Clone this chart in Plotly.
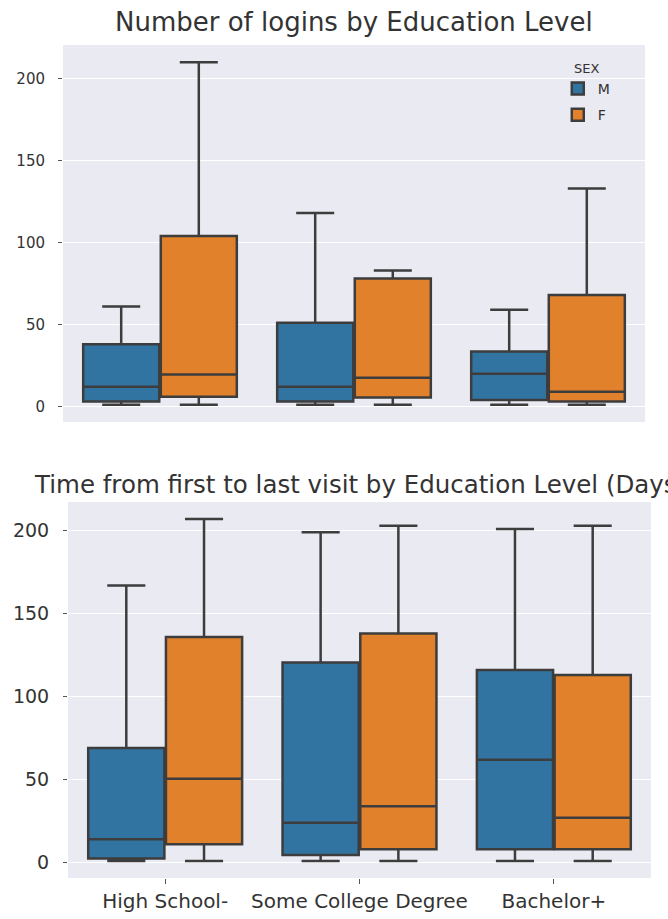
import plotly.graph_objects as go

# Education levels on the shared category axis
categories = ["High School-", "Some College Degree", "Bachelor+"]
sexes = ["M", "F"]

# Number of logins: box statistics per education level
logins_m_low = [1, 1, 1]
logins_m_q1 = [3, 3, 4]
logins_m_med = [12, 12, 20]
logins_m_q3 = [38, 51, 33.5]
logins_m_high = [61, 118, 59]

logins_f_low = [1, 1, 1]
logins_f_q1 = [6, 5.5, 3]
logins_f_med = [19.5, 17.5, 9]
logins_f_q3 = [104, 78, 68]
logins_f_high = [210, 83, 133]

# Days between first and last visit: box statistics per education level
days_m_low = [1, 1, 1]
days_m_q1 = [2.5, 4.5, 8]
days_m_med = [14, 24, 62]
days_m_q3 = [69, 120.5, 116]
days_m_high = [167, 199, 201]

days_f_low = [1, 1, 1]
days_f_q1 = [11, 8, 8]
days_f_med = [50.5, 34, 27]
days_f_q3 = [136, 138, 113]
days_f_high = [207, 203, 203]

W, H = 668, 919
BLUE = "#3274a1"
ORANGE = "#e1812c"
EDGE = "#3d3d3d"
BG = "#eaeaf2"
TEXT = "#333333"
FONT = "DejaVu Sans"


def px_x(a, b):
    return [a / W, b / W]


def px_y(top, bottom):
    return [1 - bottom / H, 1 - top / H]


def padded_range(lows, highs):
    lo, hi = min(lows), max(highs)
    pad = 0.05 * (hi - lo)
    return [lo - pad, hi + pad]


fig = go.Figure()

panels = [
    ("x", "y", True,
     (logins_m_low, logins_m_q1, logins_m_med, logins_m_q3, logins_m_high),
     (logins_f_low, logins_f_q1, logins_f_med, logins_f_q3, logins_f_high)),
    ("x2", "y2", False,
     (days_m_low, days_m_q1, days_m_med, days_m_q3, days_m_high),
     (days_f_low, days_f_q1, days_f_med, days_f_q3, days_f_high)),
]

for xa, ya, show, m_stats, f_stats in panels:
    for sex, color, stats in zip(sexes, (BLUE, ORANGE), (m_stats, f_stats)):
        low, q1, med, q3, high = stats
        fig.add_trace(go.Box(
            x=categories, lowerfence=low, q1=q1, median=med, q3=q3, upperfence=high,
            name=sex, legendgroup=sex, showlegend=show,
            fillcolor=color, line=dict(color=EDGE, width=2.5),
            whiskerwidth=0.5, boxpoints=False,
            xaxis=xa, yaxis=ya, offsetgroup=sex,
        ))

ytop_range = padded_range(logins_m_low + logins_f_low, logins_m_high + logins_f_high)
ybot_range = padded_range(days_m_low + days_f_low, days_m_high + days_f_high)

common_y = dict(
    showgrid=True, gridcolor="white", gridwidth=1.3, zeroline=False,
    showline=False, ticks="outside", ticklen=4, tickcolor="#555555",
    tickvals=[0, 50, 100, 150, 200], ticklabelstandoff=10,
)

fig.update_layout(
    width=W, height=H,
    margin=dict(l=0, r=0, t=0, b=0),
    paper_bgcolor="white", plot_bgcolor=BG,
    boxmode="group", boxgap=0.2, boxgroupgap=0.02,
    font=dict(family=FONT, color=TEXT),
    xaxis=dict(domain=px_x(63, 645), anchor="y", type="category",
               categoryarray=categories, range=[-0.5, 2.5],
               showticklabels=False, ticks="", showgrid=False,
               showline=False, zeroline=False),
    yaxis=dict(domain=px_y(45, 422), anchor="x", range=ytop_range,
               tickfont=dict(family=FONT, color=TEXT, size=15), **common_y),
    xaxis2=dict(domain=px_x(68, 651), anchor="y2", type="category",
                categoryarray=categories, range=[-0.5, 2.5],
                ticks="outside", ticklen=5, tickcolor="#555555",
                showgrid=False, showline=False, zeroline=False,
                tickfont=dict(family=FONT, color=TEXT, size=20)),
    yaxis2=dict(domain=px_y(502, 878), anchor="x2", range=ybot_range,
                tickfont=dict(family=FONT, color=TEXT, size=19), **common_y),
    legend=dict(
        title=dict(text="SEX", side="top center", font=dict(family=FONT, size=13, color=TEXT)),
        x=0.835, y=1 - 56 / H, xanchor="left", yanchor="top",
        bgcolor="rgba(0,0,0,0)", font=dict(family=FONT, size=14, color=TEXT),
        tracegroupgap=5,
    ),
    annotations=[
        dict(text="Number of logins by Education Level", xref="paper", yref="paper",
             x=354 / W, y=1 - 22 / H, xanchor="center", yanchor="middle",
             showarrow=False, font=dict(family=FONT, size=26, color=TEXT)),
        dict(text="Time from first to last visit by Education Level (Days)",
             xref="paper", yref="paper", x=360 / W, y=1 - 484 / H,
             xanchor="center", yanchor="middle", showarrow=False,
             font=dict(family=FONT, size=24.5, color=TEXT)),
    ],
)

fig.write_html("out.html")
